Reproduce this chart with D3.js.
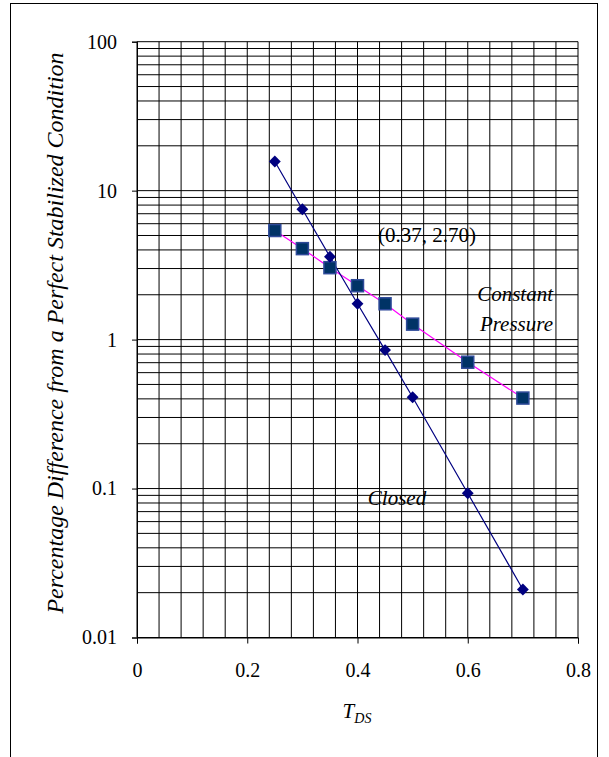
<!DOCTYPE html>
<html>
<head>
<meta charset="utf-8">
<script src="https://cdn.jsdelivr.net/npm/d3@7"></script>
<style>
  body { margin: 0; background: #fff; }
</style>
</head>
<body>
<div id="chart"></div>
<script>
// Data
var tds = [0.25, 0.3, 0.35, 0.4, 0.45, 0.5, 0.6, 0.7];
var closedValues = [15.7, 7.5, 3.6, 1.74, 0.85, 0.41, 0.093, 0.021];
var pressureValues = [5.4, 4.08, 3.04, 2.3, 1.74, 1.27, 0.705, 0.405];
var xTicks = [0, 0.2, 0.4, 0.6, 0.8];
var yTicks = [0.01, 0.1, 1, 10, 100];
var yTickLabels = ["0.01", "0.1", "1", "10", "100"];

var serif = "'Liberation Serif', 'Times New Roman', Times, 'DejaVu Serif', serif";

// Define SVG area dimensions
var svgWidth = 609;
var svgHeight = 757;

var chartMargin = {
  top: 41.7,
  right: 31,
  bottom: 119.5,
  left: 137
};

var chartWidth = svgWidth - chartMargin.left - chartMargin.right;
var chartHeight = svgHeight - chartMargin.top - chartMargin.bottom;

var svg = d3.select("#chart")
  .append("svg")
  .attr("width", svgWidth)
  .attr("height", svgHeight)
  .style("font-family", serif);

// outer frame
svg.append("rect")
  .attr("x", 10.5)
  .attr("y", 3.5)
  .attr("width", 587)
  .attr("height", 770)
  .attr("fill", "none")
  .attr("stroke", "#000")
  .attr("stroke-width", 1);

var chartGroup = svg.append("g")
  .attr("transform", `translate(${chartMargin.left}, ${chartMargin.top})`);

var xScale = d3.scaleLinear()
  .domain([0, 0.8])
  .range([0, chartWidth]);

var yScale = d3.scaleLog()
  .domain([0.01, 100])
  .range([chartHeight, 0]);

// vertical gridlines every 0.04
var xGrid = d3.range(0, 21).map(d => d * 0.04);
chartGroup.selectAll(".xgrid")
  .data(xGrid)
  .enter()
  .append("line")
  .attr("class", "xgrid")
  .attr("x1", d => xScale(d))
  .attr("x2", d => xScale(d))
  .attr("y1", 0)
  .attr("y2", chartHeight)
  .attr("stroke", "#000")
  .attr("stroke-width", 1);

// horizontal gridlines at 1..9 of each decade
var yGrid = [];
[0.01, 0.1, 1, 10].forEach(function(dec) {
  for (var k = 1; k <= 9; k++) {
    yGrid.push(dec * k);
  }
});
yGrid.push(100);
chartGroup.selectAll(".ygrid")
  .data(yGrid)
  .enter()
  .append("line")
  .attr("class", "ygrid")
  .attr("x1", 0)
  .attr("x2", chartWidth)
  .attr("y1", d => yScale(d))
  .attr("y2", d => yScale(d))
  .attr("stroke", "#000")
  .attr("stroke-width", 1);

// axes
var bottomAxis = d3.axisBottom(xScale)
  .tickValues(xTicks)
  .tickSize(6)
  .tickFormat(d => d3.format("")(+d.toFixed(1)));

var leftAxis = d3.axisLeft(yScale)
  .tickValues(yTicks)
  .tickSize(5)
  .tickFormat((d, i) => yTickLabels[i]);

var xAxis = chartGroup.append("g")
  .attr("transform", `translate(0, ${chartHeight})`)
  .call(bottomAxis);

var yAxis = chartGroup.append("g")
  .call(leftAxis);

[xAxis, yAxis].forEach(function(ax) {
  ax.attr("font-family", null).attr("font-size", null);
  ax.select(".domain").attr("stroke", "#000");
  ax.selectAll(".tick line").attr("stroke", "#000");
  ax.selectAll(".tick text")
    .attr("fill", "#000")
    .style("font-family", serif)
    .style("font-size", "20px");
});
xAxis.selectAll(".tick text").attr("y", 25).attr("dy", "0.71em");
yAxis.selectAll(".tick text").attr("x", -20).attr("dy", "0.32em");

// series
var pressureData = tds.map((t, i) => ({ x: t, y: pressureValues[i] }));
var closedData = tds.map((t, i) => ({ x: t, y: closedValues[i] }));

var line = d3.line()
  .x(d => xScale(d.x))
  .y(d => yScale(d.y));

chartGroup.append("path")
  .datum(pressureData)
  .attr("d", line)
  .attr("fill", "none")
  .attr("stroke", "#ff00ff")
  .attr("stroke-width", 1.2);

chartGroup.append("path")
  .datum(closedData)
  .attr("d", line)
  .attr("fill", "none")
  .attr("stroke", "#000080")
  .attr("stroke-width", 1.2);

chartGroup.selectAll(".square")
  .data(pressureData)
  .enter()
  .append("rect")
  .attr("class", "square")
  .attr("x", d => xScale(d.x) - 6)
  .attr("y", d => yScale(d.y) - 6)
  .attr("width", 12)
  .attr("height", 12)
  .attr("fill", "#003366")
  .attr("stroke", "#2e4a99")
  .attr("stroke-width", 1.5);

chartGroup.selectAll(".diamond")
  .data(closedData)
  .enter()
  .append("path")
  .attr("class", "diamond")
  .attr("d", d3.symbol().type(d3.symbolDiamond2).size(90))
  .attr("transform", d => `translate(${xScale(d.x)}, ${yScale(d.y)})`)
  .attr("fill", "#000080");

// annotations
function label(x, y, txt, anchor, italic) {
  svg.append("text")
    .attr("x", x)
    .attr("y", y)
    .attr("text-anchor", anchor)
    .style("font-family", serif)
    .style("font-size", "21px")
    .style("font-style", italic ? "italic" : "normal")
    .text(txt);
}
label(378, 242, "(0.37, 2.70)", "start", false);
label(553, 301, "Constant", "end", true);
label(553, 331, "Pressure", "end", true);
label(397, 505, "Closed", "middle", true);

// axis titles
var xTitle = svg.append("text")
  .attr("x", 357)
  .attr("y", 718)
  .attr("text-anchor", "middle")
  .style("font-family", serif)
  .style("font-size", "21px")
  .style("font-style", "italic");
xTitle.append("tspan").text("T");
xTitle.append("tspan")
  .attr("dy", 5)
  .style("font-size", "14px")
  .text("DS");

svg.append("text")
  .attr("transform", "translate(63, 333) rotate(-90)")
  .attr("text-anchor", "middle")
  .style("font-family", serif)
  .style("font-size", "24px")
  .style("font-style", "italic")
  .text("Percentage Difference from a Perfect Stabilized Condition");
</script>
</body>
</html>
